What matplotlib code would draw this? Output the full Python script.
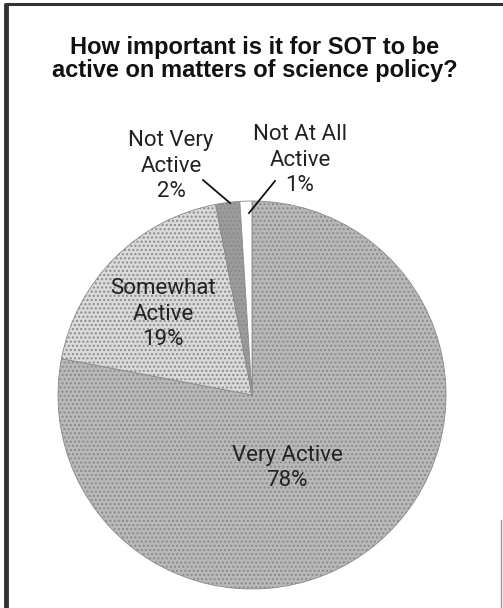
import matplotlib.pyplot as plt

# survey answers, clockwise from 12 o'clock
labels = ["Very Active", "Somewhat\nActive", "Not Very\nActive", "Not At All\nActive"]
shares = [78, 19, 2, 1]
colors = ["#b9b9b9", "#dadada", "#9c9c9c", "#ffffff"]

W, H = 503, 608
fig = plt.figure(figsize=(W / 100, H / 100), dpi=100)
ax = fig.add_axes([0, 0, 1, 1])

def y(v):
    # image rows -> data y
    return H - v

# frame (left / top, short piece on the right)
ax.plot([6, 6], [y(3), y(608)], color="#333333", lw=3.5, solid_capstyle="butt")
ax.plot([5, 503], [y(3.5), y(3.5)], color="#333333", lw=2.2, solid_capstyle="butt")
ax.plot([501.5, 501.5], [y(520), y(608)], color="#999999", lw=1.0)

ax.text(255, y(59), "How important is it for SOT to be\nactive on matters of science policy?",
        ha="center", va="center", fontsize=17, fontweight="bold",
        family="Liberation Sans", linespacing=1.02, color="#111111")

wedges, _ = ax.pie(shares, colors=colors, startangle=90, counterclock=False,
                   center=(252, y(395)), radius=194, frame=True,
                   wedgeprops=dict(edgecolor="#8a8a8a", linewidth=0.6))
for w in wedges[:3]:
    w.set_hatch("....")

ax.set_xlim(0, W)
ax.set_ylim(0, H)
ax.set_aspect("equal")
ax.axis("off")

lab = dict(ha="center", va="center", fontsize=16, family=["Roboto", "DejaVu Sans"],
           color="#222222", linespacing=1.3)
ax.text(287, y(468), f"{labels[0]}\n{shares[0]}%", **lab)
ax.text(163, y(314), f"{labels[1]}\n{shares[1]}%", **lab)
ax.text(171, y(166), f"{labels[2]}\n{shares[2]}%", **lab)
ax.text(300, y(160), f"{labels[3]}\n{shares[3]}%", **lab)

# leader lines for the two thin slices
ax.plot([203, 230], [y(180), y(203)], color="#111111", lw=1.3)
ax.plot([275, 249], [y(181), y(213)], color="#111111", lw=1.3)

fig.savefig("out.png", dpi=100, facecolor="white")
